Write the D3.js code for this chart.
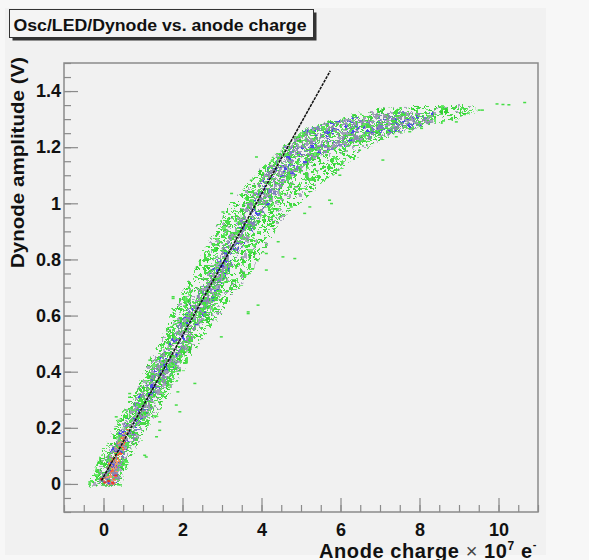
<!DOCTYPE html>
<html><head><meta charset="utf-8">
<script src="https://cdn.jsdelivr.net/npm/d3@7/dist/d3.min.js"></script>
<style>body{margin:0;background:#fff}svg{display:block}</style>
</head><body><svg id="c" width="589" height="560"></svg>
<script>
// ---------------- data ----------------
const titleText = "Osc/LED/Dynode vs. anode charge";
const xTicks = [0, 2, 4, 6, 8, 10];
const xTickLabels = ["0", "2", "4", "6", "8", "10"];
const yTicks = [0, 0.2, 0.4, 0.6, 0.8, 1, 1.2, 1.4];
const yTickLabels = ["0", "0.2", "0.4", "0.6", "0.8", "1", "1.2", "1.4"];
const xDomain = [-1, 11];
const yDomain = [-0.1, 1.5];

// extent of the populated region of the 2D histogram, row by row
const bandY   = [-0.01, 0.05, 0.1, 0.15, 0.2, 0.25, 0.3, 0.35, 0.4, 0.45, 0.5, 0.55, 0.6, 0.65, 0.7, 0.75, 0.8, 0.85, 0.9, 0.95, 1.0, 1.05, 1.1, 1.15, 1.2, 1.24, 1.27, 1.29, 1.31, 1.335, 1.35];
const outerLo = [-0.38, -0.25, -0.08, 0.10, 0.25, 0.45, 0.65, 0.85, 1.02, 1.20, 1.38, 1.55, 1.68, 1.85, 2.05, 2.25, 2.42, 2.60, 2.80, 3.00, 3.20, 3.55, 3.80, 4.15, 4.55, 4.85, 5.10, 5.55, 6.05, 6.90, 8.20];
const outerHi = [0.45, 0.55, 0.70, 0.92, 1.12, 1.35, 1.60, 1.80, 1.98, 2.20, 2.42, 2.70, 2.95, 3.20, 3.45, 3.70, 3.92, 4.15, 4.35, 4.60, 4.95, 5.30, 5.80, 6.30, 6.70, 7.20, 8.00, 8.60, 9.10, 9.60, 9.20];

// denser green region of the lower half
const midY  = [-0.01, 0.1, 0.2, 0.3, 0.4, 0.5, 0.6, 0.7, 0.8];
const midLo = [-0.30, 0.00, 0.35, 0.75, 1.12, 1.50, 1.85, 2.30, 2.90];
const midHi = [0.40, 0.62, 1.00, 1.45, 1.85, 2.25, 2.70, 3.10, 3.20];

// higher-count core (grey / blue bins)
const coreY  = [-0.005, 0.05, 0.1, 0.15, 0.2, 0.3, 0.4, 0.5, 0.6, 0.7, 0.8, 0.9, 1.0, 1.1, 1.17, 1.22, 1.25, 1.28, 1.31, 1.325];
const coreLo = [-0.15, -0.02, 0.12, 0.30, 0.48, 0.85, 1.25, 1.65, 2.05, 2.45, 2.85, 3.25, 3.65, 4.05, 4.40, 4.75, 4.95, 5.40, 6.30, 7.40];
const coreHi = [0.35, 0.45, 0.55, 0.75, 0.95, 1.35, 1.75, 2.15, 2.55, 2.95, 3.35, 3.75, 4.20, 4.75, 5.40, 6.40, 7.40, 8.30, 8.50, 8.40];

// highest-count bins (orange / red) near the origin
const hotY  = [-0.005, 0.05, 0.1, 0.15, 0.2];
const hotLo = [-0.02, 0.08, 0.22, 0.38, 0.55];
const hotHi = [0.30, 0.38, 0.48, 0.58, 0.66];
const redX = [0.02, 0.12, 0.22, -0.06, 0.30];
const redY = [0.005, 0.01, 0.004, 0.018, 0.03];

// isolated low-count bins
const outlierX = [3.01, 3.23, 4.41, 4.83, 4.74, 5.08, 4.11, 3.90, 3.65, 1.75, 2.59, 4.53, 1.07, 1.41, 1.92, 1.83, 2.30, 0.31, 0.65, 1.16, -0.36, 5.97, 5.76, 3.86, 3.73, 6.22, 7.06, 6.47, 10.1, 9.95, 10.25, 10.65, 9.58, 9.5, 7.40, 7.74, 8.92, 8.04, 1.33, 1.41, 1.03, 1.87, 3.65, 2.97, 4.11, 5.21, 5.71, 1.75];
const outlierY = [0.970, 1.036, 0.864, 0.804, 0.988, 0.965, 0.763, 0.638, 0.608, 0.668, 0.804, 0.810, 0.097, 0.192, 0.258, 0.282, 0.359, 0.240, 0.323, 0.442, 0.008, 1.101, 1.0, 1.166, 1.083, 1.244, 1.155, 1.19, 1.353, 1.355, 1.352, 1.36, 1.333, 1.333, 1.238, 1.256, 1.291, 1.268, 0.169, 0.222, 0.103, 0.329, 0.614, 0.525, 0.822, 0.988, 1.012, 0.662];

// linear fit
const fitX = [-0.05, 5.74];
const fitY = [0.012, 1.472];

// ---------------- drawing ----------------
const svg = d3.select("#c");
const W = 589, H = 560;
const M = {l: 64, r: 538, t: 63, b: 512};
const x = d3.scaleLinear().domain(xDomain).range([M.l, M.r]);
const y = d3.scaleLinear().domain(yDomain).range([M.b, M.t]);

svg.append("rect").attr("width", W).attr("height", H).attr("fill", "#f7f7f7");
svg.append("rect").attr("x", 5).attr("y", 8).attr("width", 541).attr("height", 547).attr("fill", "#f1f1f1");

const defs = svg.append("defs");
defs.append("clipPath").attr("id", "frameClip").append("rect")
  .attr("x", M.l).attr("y", M.t).attr("width", M.r - M.l).attr("height", M.b - M.t);

// texture (visual style of the bin speckle)
function lcg(seed) { let s = seed >>> 0; return () => { s = (Math.imul(s, 1664525) + 1013904223) >>> 0; return s / 4294967296; }; }
function makePattern(id, w, h, n, palette, seed) {
  const r = lcg(seed);
  const p = defs.append("pattern").attr("id", id).attr("patternUnits", "userSpaceOnUse")
    .attr("width", w).attr("height", h);
  for (let i = 0; i < n; i++) {
    p.append("rect")
      .attr("x", Math.floor(r() * w)).attr("y", Math.floor(r() * h))
      .attr("width", 1 + Math.floor(r() * 3)).attr("height", r() < 0.5 ? 1 : 2)
      .attr("fill", palette[Math.floor(r() * palette.length)]);
  }
}
const greens = ["#3fdc3f", "#52e452", "#34d034", "#6ae86a", "#48d848", "#44e044", "#a8a8bc"];
makePattern("pOuter", 64, 48, 560, greens, 11);
makePattern("pMid", 64, 48, 420, greens.concat(["#9a9ab2"]), 53);
makePattern("pCore", 64, 48, 900, ["#8e8ea8", "#9c9cb4", "#7c7cc4", "#8888b0", "#4c4ce6", "#46d846", "#5ae05a", "#a0a0b8", "#48dc48"], 29);
makePattern("pHot", 32, 24, 260, ["#e89a6a", "#f0a060", "#e07a50", "#5050e0", "#9090b0", "#f06040"], 7);

const rough = defs.append("filter").attr("id", "rough")
  .attr("x", "-10%").attr("y", "-10%").attr("width", "120%").attr("height", "120%");
rough.append("feTurbulence").attr("type", "fractalNoise").attr("baseFrequency", 0.18).attr("numOctaves", 2).attr("seed", 4).attr("result", "n");
rough.append("feDisplacementMap").attr("in", "SourceGraphic").attr("in2", "n").attr("scale", 7)
  .attr("xChannelSelector", "R").attr("yChannelSelector", "G").attr("result", "d");
rough.append("feGaussianBlur").attr("in", "d").attr("stdDeviation", 0.35);

const plot = svg.append("g").attr("clip-path", "url(#frameClip)");

function bandArea(ys, lo, hi) {
  const rows = ys.map((v, i) => ({y: v, lo: lo[i], hi: hi[i]}));
  return d3.area().curve(d3.curveBasis)
    .y(d => y(d.y)).x0(d => x(d.lo)).x1(d => x(d.hi))(rows);
}
const g2 = plot.append("g").attr("filter", "url(#rough)");
g2.append("path").attr("d", bandArea(bandY, outerLo, outerHi)).attr("fill", "url(#pOuter)");
g2.append("path").attr("d", bandArea(midY, midLo, midHi)).attr("fill", "url(#pMid)");
g2.append("path").attr("d", bandArea(coreY, coreLo, coreHi)).attr("fill", "url(#pCore)");
g2.append("path").attr("d", bandArea(hotY, hotLo, hotHi)).attr("fill", "url(#pHot)");

plot.selectAll("rect.out").data(outlierX.map((v, i) => [v, outlierY[i]])).join("rect")
  .attr("class", "out").attr("x", d => x(d[0]) - 1).attr("y", d => y(d[1]) - 0.5)
  .attr("width", 3).attr("height", 1.5).attr("fill", "#44dd44");
plot.selectAll("rect.red").data(redX.map((v, i) => [v, redY[i]])).join("rect")
  .attr("class", "red").attr("x", d => x(d[0]) - 1).attr("y", d => y(d[1]) - 1)
  .attr("width", 3).attr("height", 2).attr("fill", "#f03030");

plot.append("path")
  .attr("d", d3.line().x(d => x(d[0])).y(d => y(d[1]))(fitX.map((v, i) => [v, fitY[i]])))
  .attr("stroke", "#111").attr("stroke-width", 1.5).attr("stroke-dasharray", "3 1").attr("fill", "none");

// axes
const axisColor = "#8a8a8a";
const font = "'Liberation Sans', Arial, Helvetica, sans-serif";
function styleAxis(g) {
  g.select(".domain").remove();
  g.selectAll(".tick line").attr("stroke", axisColor).attr("stroke-width", 1.2);
  g.selectAll("text").attr("fill", "#111").attr("font-family", font).attr("font-weight", "bold").attr("font-size", 18);
}
svg.append("g").attr("transform", `translate(0,${M.b})`)
  .call(d3.axisBottom(x).tickValues(d3.range(-1, 11.001, 0.5)).tickSizeInner(-7).tickSizeOuter(0).tickFormat(""))
  .call(styleAxis);
svg.append("g").attr("transform", `translate(0,${M.b})`)
  .call(d3.axisBottom(x).tickValues(xTicks).tickSizeInner(-14).tickSizeOuter(0).tickPadding(11)
    .tickFormat((d, i) => xTickLabels[i]))
  .call(styleAxis);
svg.append("g").attr("transform", `translate(${M.l},0)`)
  .call(d3.axisLeft(y).tickValues(d3.range(-0.1, 1.5001, 0.05)).tickSizeInner(-7).tickSizeOuter(0).tickFormat(""))
  .call(styleAxis);
svg.append("g").attr("transform", `translate(${M.l},0)`)
  .call(d3.axisLeft(y).tickValues(yTicks).tickSizeInner(-14).tickSizeOuter(0).tickPadding(3)
    .tickFormat((d, i) => yTickLabels[i]))
  .call(styleAxis);

// frame
svg.append("rect").attr("x", M.l).attr("y", M.t).attr("width", M.r - M.l).attr("height", M.b - M.t)
  .attr("fill", "none").attr("stroke", axisColor).attr("stroke-width", 1.5);

// axis titles
svg.append("text").attr("transform", `translate(24,57) rotate(-90)`)
  .attr("text-anchor", "end").attr("font-family", font).attr("font-weight", "bold").attr("font-size", 19)
  .attr("fill", "#111").attr("textLength", 211).attr("lengthAdjust", "spacingAndGlyphs")
  .text("Dynode amplitude (V)");

const xt = svg.append("text").attr("x", 537).attr("y", 557.5).attr("text-anchor", "end")
  .attr("font-family", font).attr("font-weight", "bold").attr("font-size", 20).attr("letter-spacing", 0.6)
  .attr("fill", "#111");
xt.append("tspan").text("Anode charge ");
xt.append("tspan").attr("font-weight", "normal").attr("fill", "#444").text("×");
xt.append("tspan").text(" 10");
xt.append("tspan").attr("font-size", 12).attr("dy", -8).text("7");
xt.append("tspan").attr("dy", 8).text(" e");
xt.append("tspan").attr("font-size", 11).attr("dy", -10).text("-");

// title box
svg.append("rect").attr("x", 12.5).attr("y", 12.5).attr("width", 304).attr("height", 28).attr("fill", "#333");
svg.append("rect").attr("x", 9.5).attr("y", 9.5).attr("width", 304).attr("height", 28)
  .attr("fill", "#f4f4f4").attr("stroke", "#333").attr("stroke-width", 1);
svg.append("text").attr("x", 13.5).attr("y", 31).attr("font-family", font).attr("font-weight", "bold")
  .attr("font-size", 16).attr("fill", "#111").attr("textLength", 293).attr("lengthAdjust", "spacingAndGlyphs")
  .text(titleText);
</script></body></html>
